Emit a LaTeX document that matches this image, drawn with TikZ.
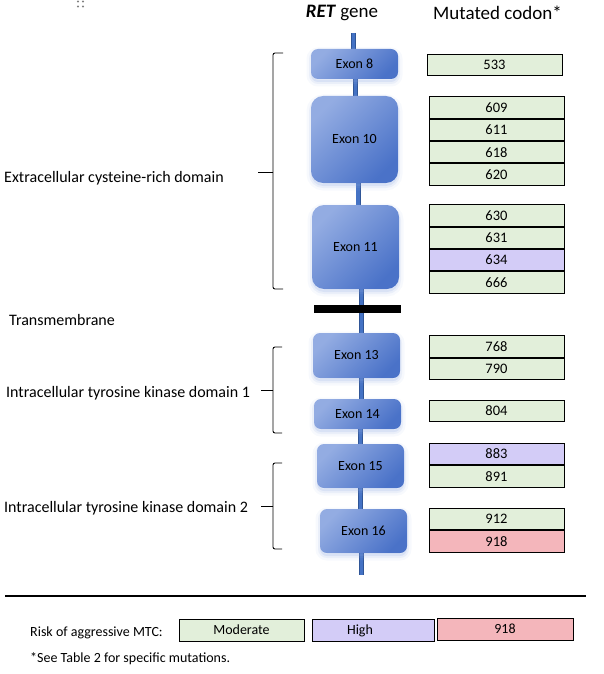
\documentclass[tikz,border=0pt]{standalone}
\usepackage{fontspec}
\setmainfont{Carlito}
\usetikzlibrary{positioning}
\pgfdeclarelayer{bg}\pgfsetlayers{bg,main}
\definecolor{exlight}{HTML}{93ACE2}
\definecolor{exdark}{HTML}{4A72C8}
\definecolor{stemc}{HTML}{4472C4}
\definecolor{stemb}{HTML}{2F5597}
\definecolor{glowc}{HTML}{8EA8E0}
\definecolor{modc}{HTML}{E2EFDA}
\definecolor{highc}{HTML}{D3CCF7}
\definecolor{vhighc}{HTML}{F4B6BB}
\tikzset{
  x=1pt, y=-1pt,
  body/.style={font=\fontsize{14}{16}\selectfont, inner sep=0pt},
  exon/.style={body, rounded corners=#1, minimum width=87pt,
    top color=exlight, bottom color=exdark, shading angle=45,
    preaction={fill=glowc, draw=glowc, line width=9pt, opacity=0.07, transform canvas={yshift=-3pt}},
    preaction={fill=glowc, draw=glowc, line width=4pt, opacity=0.12, transform canvas={yshift=-3pt}}},
  exon/.default=7pt,
  codon/.style={font=\fontsize{14.5}{16}\selectfont, inner sep=0pt, draw=black, line width=0.8pt, minimum width=135pt, minimum height=21.5pt},
  modr/.style={codon, fill=modc},
  high/.style={codon, fill=highc},
  vhigh/.style={codon, fill=vhighc},
  stem/.style={draw=stemb, line width=0.7pt, double=stemc, double distance=3.6pt},
  brace/.style={draw=black, line width=0.9pt, rounded corners=2pt},
  lbl/.style={font=\fontsize{16}{18}\selectfont, inner sep=0pt, anchor=west},
  leg/.style={font=\fontsize{14}{17}\selectfont, inner sep=0pt, anchor=west},
  legbox/.style={font=\fontsize{14}{17}\selectfont, inner sep=0pt, draw=black, line width=0.9pt, text height=9pt, text depth=1pt, minimum height=22pt},
  head/.style={font=\fontsize{19}{21}\selectfont, inner sep=0pt},
}
\begin{document}
\begin{tikzpicture}
\useasboundingbox (0,0) rectangle (604,674);
% small dots
\foreach \dx in {78,83} \foreach \dy in {1.5,6.5} \fill[gray] (\dx,\dy) circle (1.1);
% headers
\node[head] (hret) at (342,13) {\textbf{\textit{RET}} gene};
\node[head] (hcod) at (497.5,13) {Mutated codon*};
% coordinates for stem ends
\coordinate (stop) at (353.5,33);
\coordinate (sbot) at (361.5,575);
% exons
\node[exon, minimum height=30pt] (e8) at (354.5,64) {Exon 8};
\node[exon=12pt, minimum height=87pt] (e10) at (354.5,139.5) {Exon 10};
\node[exon=12pt, minimum height=84pt] (e11) at (355.5,247) {Exon 11};
\node[exon, minimum height=45pt] (e13) at (356.5,355.5) {Exon 13};
\node[exon, minimum height=30pt] (e14) at (357.5,414) {Exon 14};
\node[exon, minimum height=44pt] (e15) at (360.5,466) {Exon 15};
\node[exon, minimum height=44pt] (e16) at (363.5,531) {Exon 16};
% transmembrane bar
\node[fill=black, minimum width=87pt, minimum height=8pt, inner sep=0pt] (tm) at (357.5,309) {};
% stems
\begin{pgfonlayer}{bg}
\draw[stem] (stop) -- (stop |- e8.north);
\draw[stem] ([xshift=1pt]e8.south) -- ([xshift=1pt]e10.north);
\draw[stem] ([xshift=3.5pt]e10.south) -- ([xshift=2.5pt]e11.north);
\draw[stem] ([xshift=6pt]e11.south) -- ([xshift=5pt]e13.north);
\draw[stem] ([xshift=5pt]e13.south) -- ([xshift=4pt]e14.north);
\draw[stem] ([xshift=3pt]e14.south) -- ([xshift=0pt]e15.north);
\draw[stem] ([xshift=0pt]e15.south) -- ([xshift=-3pt]e16.north);
\draw[stem] ([xshift=-2pt]e16.south) -- (sbot);
\end{pgfonlayer}
% codons
\node[modr] (c533) at (494.5,65) {533};
\node[modr] (c609) at (496.5,107.5) {609};
\node[modr, below=0pt of c609] (c611) {611};
\node[modr, below=0pt of c611] (c618) {618};
\node[modr, below=0pt of c618] (c620) {620};
\node[modr] (c630) at (496.5,215.5) {630};
\node[modr, below=0pt of c630] (c631) {631};
\node[high, below=0pt of c631] (c634) {634};
\node[modr, below=0pt of c634] (c666) {666};
\node[modr] (c768) at (496.5,346.5) {768};
\node[modr, below=0pt of c768] (c790) {790};
\node[modr] (c804) at (496.5,411) {804};
\node[high] (c883) at (496.5,454) {883};
\node[modr, below=0pt of c883] (c891) {891};
\node[modr] (c912) at (496.5,519) {912};
\node[vhigh, below=0pt of c912] (c918) {918};
% domain labels
\node[lbl] (dex) at (4,178) {Extracellular cysteine-rich domain};
\node[lbl] (dtm) at (9,320) {Transmembrane};
\node[lbl] (dk1) at (6,393) {Intracellular tyrosine kinase domain 1};
\node[lbl] (dk2) at (4,508) {Intracellular tyrosine kinase domain 2};
% braces
\draw[brace] (283,53) -- (273,53) -- (273,172);
\draw[brace] (258,172) -- (273,172);
\draw[brace] (273,172) -- (273,289) -- (283,289);
\draw[brace] (282,347) -- (273,347) -- (273,390);
\draw[brace] (261,390) -- (273,390);
\draw[brace] (273,390) -- (273,433) -- (282,433);
\draw[brace] (282,463) -- (273,463) -- (273,506);
\draw[brace] (261,506) -- (273,506);
\draw[brace] (273,506) -- (273,549) -- (282,549);
% bottom rule and legend
\coordinate (rl) at (5,596);
\coordinate (rr) at (586,596);
\draw[line width=2pt] (rl) -- (rr);
\node[leg] (risk) at (30,633) {Risk of aggressive MTC:};
\node[legbox, fill=modc, minimum width=125pt] (lmod) at (241.5,630) {Moderate};
\node[legbox, fill=highc, minimum width=122pt] (lhigh) at (373,630) {\hspace*{-26pt}High};
\node[legbox, fill=vhighc, minimum width=136pt] (l918) at (505,629) {918};
\node[leg] (note) at (30,659) {*See Table 2 for specific mutations.};
\end{tikzpicture}
\end{document}
